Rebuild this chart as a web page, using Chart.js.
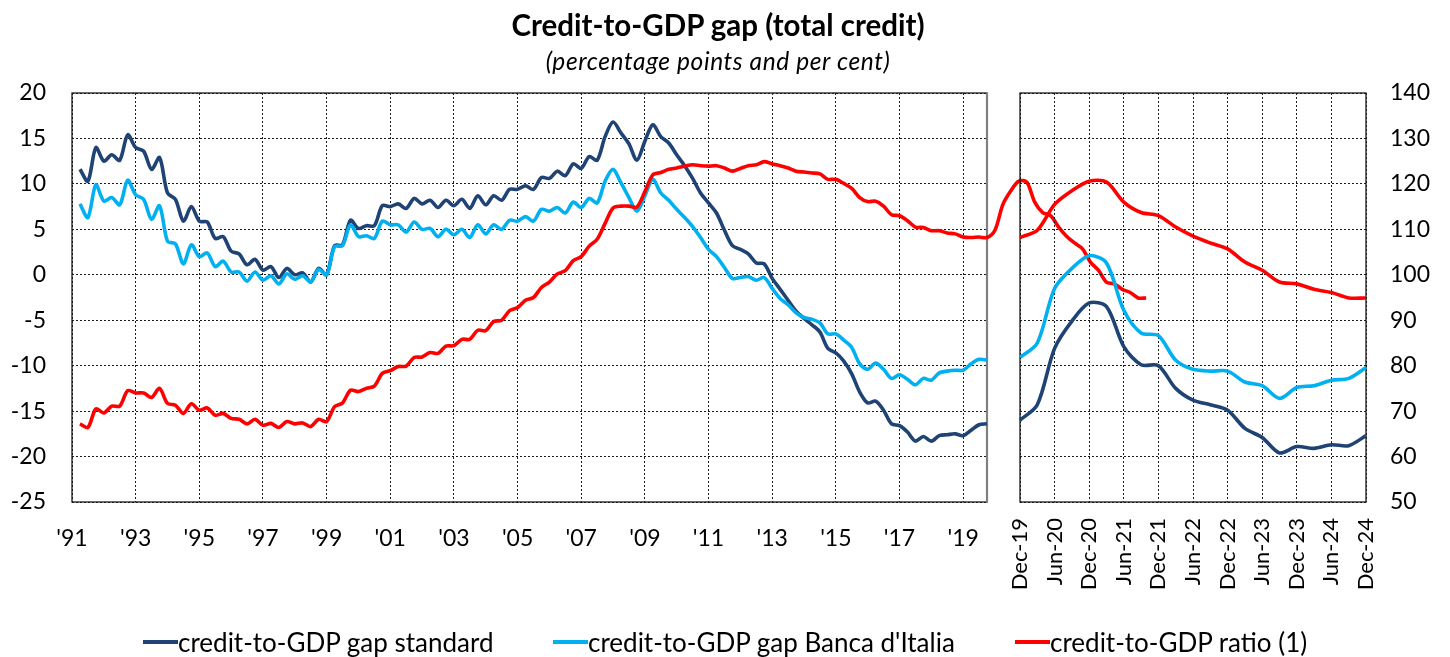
<!DOCTYPE html>
<html>
<head>
<meta charset="utf-8">
<script src="https://cdn.jsdelivr.net/npm/chart.js@4.4.1/dist/chart.umd.min.js"></script>
<style>
html,body{margin:0;padding:0;background:#fff;}
#wrap{position:relative;width:1450px;height:657px;overflow:hidden;font-family:Lato,'Open Sans',sans-serif;color:#000;}
#c1{position:absolute;left:0;top:0;}
#c2{position:absolute;left:1000px;top:0;}
.t{position:absolute;left:0;width:1450px;text-align:center;white-space:nowrap;}
#title{top:7px;font-size:29.5px;font-weight:bold;padding-right:14px;box-sizing:border-box;}
#subtitle{top:46px;font-size:24.5px;font-style:italic;letter-spacing:0.6px;padding-right:14px;box-sizing:border-box;}
.lg{position:absolute;top:627px;font-size:26px;white-space:nowrap;display:flex;align-items:center;line-height:30px;}
.lg i{display:inline-block;width:35px;height:4px;margin-right:0;}
</style>
</head>
<body>
<div id="wrap">
  <canvas id="c1" width="1450" height="657"></canvas>
  <canvas id="c2" width="450" height="657"></canvas>
  <div class="t" id="title">Credit-to-GDP gap (total credit)</div>
  <div class="t" id="subtitle">(percentage points and per cent)</div>
  <div class="lg" style="left:143px"><i style="background:#1F4374"></i>credit-to-GDP gap standard</div>
  <div class="lg" style="left:553px"><i style="background:#00B0F0"></i>credit-to-GDP gap Banca d'Italia</div>
  <div class="lg" style="left:1015px"><i style="background:#FF0000"></i>credit-to-GDP ratio (1)</div>
</div>
<script>
// ---------- DATA ----------
// Left panel: quarterly, Q2 1991 ... Q4 2019 (115 quarters)
const firstQuarter = 1991.25;   // position of first quarter on the year axis
const quarterStep = 0.25;
const gapStandard = [
  11.6, 10.3, 14.0, 12.5, 13.2, 12.6, 15.4, 14.0, 13.6, 11.6,
  12.9, 9.0, 8.3, 5.9, 7.5, 5.9, 5.8, 4.0, 4.2, 2.6,
  2.3, 1.1, 1.7, 0.5, 0.9, -0.3, 0.7, 0.0, 0.2, -0.8,
  0.7, 0.0, 3.2, 3.3, 6.0, 5.1, 5.4, 5.4, 7.6, 7.5,
  7.8, 7.3, 8.4, 7.8, 8.2, 7.4, 8.2, 7.6, 8.3, 7.3,
  8.7, 7.7, 8.7, 8.2, 9.4, 9.4, 9.8, 9.4, 10.7, 10.6,
  11.4, 10.9, 12.2, 11.7, 13.0, 12.6, 15.2, 16.8, 15.6, 14.4,
  12.6, 14.7, 16.5, 15.2, 14.5, 13.2, 12.0, 10.6, 9.0, 7.9,
  6.8, 4.9, 3.2, 2.8, 2.3, 1.3, 1.2, -0.4, -1.6, -2.8,
  -4.0, -4.8, -5.5, -6.3, -8.1, -8.6, -9.5, -10.9, -12.9, -14.1,
  -13.9, -14.9, -16.4, -16.6, -17.3, -18.3, -17.8, -18.3, -17.7, -17.6,
  -17.5, -17.7, -17.1, -16.5, -16.4
];
const gapBancaItalia = [
  7.8, 6.3, 9.9, 8.1, 8.5, 7.7, 10.4, 8.8, 8.3, 6.1,
  7.6, 3.7, 3.4, 1.2, 3.3, 2.0, 2.4, 0.9, 1.5, 0.3,
  0.3, -0.7, 0.3, -0.6, -0.1, -1.0, 0.1, -0.5, -0.1, -0.8,
  0.6, 0.0, 3.1, 3.2, 5.5, 4.2, 4.3, 4.0, 5.9, 5.5,
  5.5, 4.7, 5.8, 5.0, 5.1, 4.2, 5.0, 4.4, 5.0, 4.1,
  5.5, 4.5, 5.5, 5.0, 6.0, 5.9, 6.4, 5.9, 7.2, 7.0,
  7.4, 6.8, 8.0, 7.4, 8.4, 7.9, 10.3, 11.6, 10.1, 8.5,
  7.0, 8.7, 10.5, 9.0, 8.2, 7.2, 6.3, 5.3, 4.1, 2.8,
  2.0, 0.8, -0.4, -0.3, -0.2, -0.6, -0.3, -1.5, -2.6, -3.3,
  -4.2, -4.7, -4.9, -5.3, -6.5, -6.5, -7.2, -8.0, -9.8, -10.4,
  -9.7, -10.4, -11.4, -11.0, -11.5, -12.1, -11.4, -11.6, -10.8, -10.6,
  -10.5, -10.5, -9.8, -9.3, -9.4
];
const ratioHist = [
  67.2, 66.4, 70.5, 69.6, 71.1, 71.1, 74.5, 74.0, 74.0, 73.0,
  75.0, 71.7, 71.3, 69.5, 71.6, 70.2, 70.7, 69.1, 69.5, 68.4,
  68.2, 67.2, 68.2, 66.9, 67.3, 66.4, 67.7, 67.2, 67.4, 66.6,
  68.2, 67.7, 71.0, 71.8, 74.6, 74.3, 75.0, 75.5, 78.3, 78.9,
  79.8, 79.9, 81.8, 81.9, 82.9, 82.7, 84.3, 84.4, 85.8, 85.8,
  87.8, 87.7, 89.7, 90.0, 92.1, 92.8, 94.4, 95.0, 97.2, 98.4,
  100.2, 100.9, 103.1, 104.0, 106.3, 107.8, 111.3, 114.7, 115.1, 115.1,
  114.9, 118.3, 122.0, 122.5, 123.2, 123.5, 123.9, 124.2, 124.0, 123.9,
  124.0, 123.5, 122.8, 123.4, 124.0, 124.2, 124.9, 124.4, 124.0, 123.5,
  122.8, 122.6, 122.4, 122.2, 121.0, 121.0, 120.1, 119.0, 117.0, 116.1,
  116.2, 115.1, 113.2, 113.0, 111.9, 110.5, 110.4, 109.7, 109.7, 109.2,
  109.0, 108.3, 108.2, 108.3, 108.2
];
const leftTickYears = [1991,1993,1995,1997,1999,2001,2003,2005,2007,2009,2011,2013,2015,2017,2019];
const leftTickLabels = ["'91","'93","'95","'97","'99","'01","'03","'05","'07","'09","'11","'13","'15","'17","'19"];

// Right panel: quarterly, Dec-19 ... Dec-24
const recentLabels = ["Dec-19","Mar-20","Jun-20","Sep-20","Dec-20","Mar-21","Jun-21","Sep-21","Dec-21","Mar-22","Jun-22","Sep-22","Dec-22","Mar-23","Jun-23","Sep-23","Dec-23","Mar-24","Jun-24","Sep-24","Dec-24"];
const gapStandardRecent = [-16.0, -14.3, -8.1, -5.1, -3.1, -3.5, -7.9, -9.9, -10.0, -12.5, -13.8, -14.3, -14.9, -16.9, -17.9, -19.6, -18.9, -19.1, -18.7, -18.8, -17.7];
const gapBancaItaliaRecent = [-9.1, -7.5, -1.5, 0.7, 2.1, 1.3, -3.9, -6.4, -6.7, -9.4, -10.4, -10.6, -10.6, -11.8, -12.2, -13.6, -12.4, -12.2, -11.6, -11.4, -10.2];
const ratioRecent = [108.2, 109.8, 115.5, 118.5, 120.6, 120.4, 116.0, 113.7, 113.0, 110.5, 108.5, 107.0, 105.7, 102.8, 101.0, 98.4, 98.0, 96.8, 96.1, 94.9, 94.9];

const gapAxis = {min: -25, max: 20, step: 5};
const ratioAxis = {min: 50, max: 140, step: 10};

// ---------- STYLE ----------
const COL_STD = '#1F4374', COL_BDI = '#00B0F0', COL_RATIO = '#FF0000';
const LW = 3.6, TENSION = 0.3;
Chart.defaults.font.family = "Lato, 'Open Sans', sans-serif";
Chart.defaults.color = '#000';
Chart.defaults.animation = false;

const toXY = arr => arr.map((v, i) => ({x: firstQuarter + i * quarterStep, y: v}));

const frame = {
  id: 'frame',
  beforeDatasetsDraw(chart, args, opts) {
    const {ctx, chartArea: a} = chart;
    ctx.save();
    ctx.strokeStyle = '#1a1a1a';
    ctx.lineWidth = 1.3;
    ctx.strokeRect(a.left, a.top, a.right - a.left, a.bottom - a.top);
    if (opts.rightGray) {
      ctx.strokeStyle = '#808080';
      ctx.lineWidth = 2.2;
      ctx.beginPath(); ctx.moveTo(a.right, a.top); ctx.lineTo(a.right, a.bottom + 1); ctx.stroke();
    }
    ctx.restore();
  }
};

const gridCommon = {color: '#1a1a1a', lineWidth: 1, drawTicks: false};
const borderCommon = {display: false, dash: [2, 2]};
const ds = (label, data, color, axis, extra) => Object.assign({
  label, data, borderColor: color, backgroundColor: color, borderWidth: LW,
  pointRadius: 0, tension: TENSION, yAxisID: axis, fill: false
}, extra || {});

// Left chart (the ratio line runs on past Dec-19, as in the original)
new Chart(document.getElementById('c1'), {
  type: 'line',
  data: {
    datasets: [
      ds('credit-to-GDP ratio (1)', toXY(ratioHist.concat(ratioRecent.slice(1))), COL_RATIO, 'y2', {clip: false}),
      ds('credit-to-GDP gap Banca d\'Italia', toXY(gapBancaItalia), COL_BDI, 'y'),
      ds('credit-to-GDP gap standard', toXY(gapStandard), COL_STD, 'y')
    ]
  },
  options: {
    responsive: false,
    layout: {padding: {left: 0, right: 463, top: 93, bottom: 105}},
    plugins: {legend: {display: false}, tooltip: {enabled: false}, frame: {rightGray: true}},
    scales: {
      x: {
        type: 'linear', position: 'bottom', bounds: 'data',
        afterDataLimits(s) { s.min = leftTickYears[0]; s.max = firstQuarter + (gapStandard.length - 1) * quarterStep; },
        afterBuildTicks(s) { s.ticks = leftTickYears.map(v => ({value: v})); },
        afterFit(s) { s.height = 50; },
        ticks: {autoSkip: false, maxRotation: 0, padding: 23, font: {size: 23},
                callback: (v, i) => leftTickLabels[i]},
        grid: gridCommon, border: borderCommon
      },
      y: {
        position: 'left', min: gapAxis.min, max: gapAxis.max,
        afterFit(s) { s.width = 72; },
        ticks: {stepSize: gapAxis.step, padding: 26, font: {size: 23}},
        grid: gridCommon, border: borderCommon
      },
      y2: {display: false, position: 'right', min: ratioAxis.min, max: ratioAxis.max}
    }
  },
  plugins: [frame]
});

// Right chart
new Chart(document.getElementById('c2'), {
  type: 'line',
  data: {
    labels: recentLabels,
    datasets: [
      ds('credit-to-GDP ratio (1)', ratioRecent, COL_RATIO, 'y2'),
      ds('credit-to-GDP gap Banca d\'Italia', gapBancaItaliaRecent, COL_BDI, 'y'),
      ds('credit-to-GDP gap standard', gapStandardRecent, COL_STD, 'y')
    ]
  },
  options: {
    responsive: false,
    layout: {padding: {left: 20, right: 0, top: 93, bottom: 45}},
    plugins: {legend: {display: false}, tooltip: {enabled: false}, frame: {}},
    scales: {
      x: {
        type: 'category', offset: false,
        afterFit(s) { s.height = 110; },
        ticks: {autoSkip: false, minRotation: 90, maxRotation: 90, padding: 16, font: {size: 22},
                callback: (v, i) => (i % 2 === 0 ? recentLabels[i] : '')},
        grid: Object.assign({}, gridCommon, {color: c => (c.index % 2 === 0 ? '#1a1a1a' : 'rgba(0,0,0,0)')}),
        border: borderCommon
      },
      y: {display: false, min: gapAxis.min, max: gapAxis.max},
      y2: {
        position: 'right', min: ratioAxis.min, max: ratioAxis.max,
        afterFit(s) { s.width = 84; },
        ticks: {stepSize: ratioAxis.step, padding: 24, font: {size: 23}},
        grid: gridCommon, border: borderCommon
      }
    }
  },
  plugins: [frame]
});
</script>
</body>
</html>
